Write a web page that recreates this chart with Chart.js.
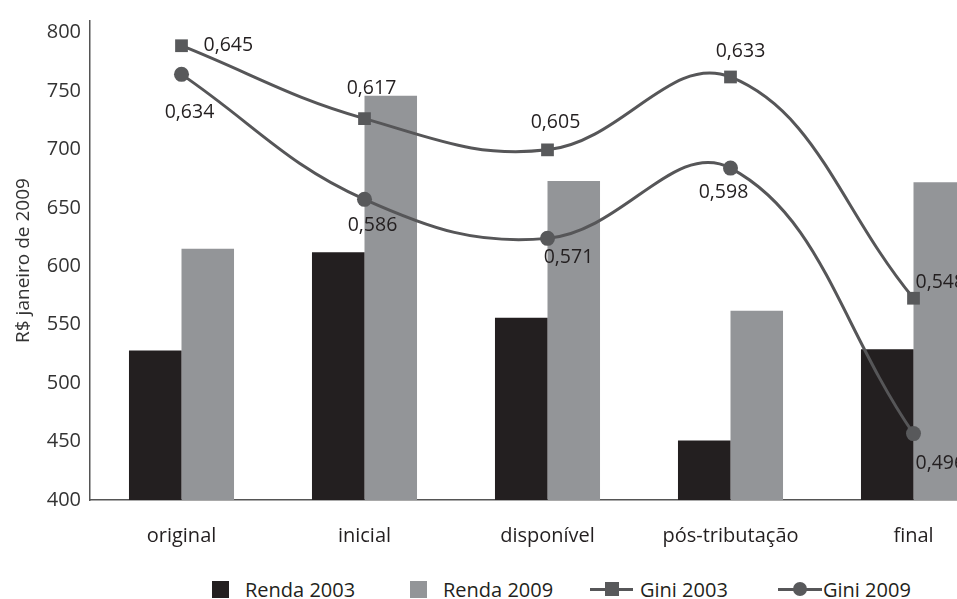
<!DOCTYPE html>
<html>
<head>
<meta charset="utf-8">
<script src="https://cdn.jsdelivr.net/npm/chart.js@4/dist/chart.umd.min.js"></script>
<style>
    body { margin: 0; background: #fff; overflow: hidden; }
    #wrap { position: relative; width: 1014px; height: 599px; }
    #box { position: absolute; left: 0; top: 0; width: 1014px; height: 570px; }
    #legend { position: absolute; left: 0; top: 576px; width: 1014px; height: 26px; font-family: "Open Sans", sans-serif; font-size: 20px; color: #231f20; }
    .leg-item { position: absolute; top: 0; height: 26px; display: flex; align-items: center; white-space: nowrap; }
    .leg-box { width: 17px; height: 17px; margin-right: 16px; }
    .leg-line { position: relative; height: 14px; }
    .leg-line .ln { position: absolute; left: 0; right: 0; top: 5.5px; height: 3px; }
    .leg-line .mk { position: absolute; top: 0; width: 14px; height: 14px; margin-left: -7px; left: 50%; }
</style>
</head>
<body>
<div id="wrap">
    <div id="box"><canvas id="myChart"></canvas></div>
    <div id="legend"></div>
</div>
<script>
const categories = ['original', 'inicial', 'disponível', 'pós-tributação', 'final'];
const renda2003 = [528, 612, 556, 451, 529];
const renda2009 = [615, 746, 673, 562, 672];
const gini2003 = [0.645, 0.617, 0.605, 0.633, 0.548];
const gini2009 = [0.634, 0.586, 0.571, 0.598, 0.496];
const yTicks = [400, 450, 500, 550, 600, 650, 700, 750, 800];

const DARK = '#231f20';
const GRAY = '#939598';
const LINE = '#565658';
const FONT = '"Open Sans", sans-serif';

// label offsets next to each Gini point: [dx, dy, align]
const gini2003LabelPos = [[22, 0, 'left'], [7, -30, 'center'], [8, -27, 'center'], [10, -26, 'center'], [2, -16, 'left']];
const gini2009LabelPos = [[8, 38, 'center'], [8, 26, 'center'], [21, 19, 'center'], [-7, 24, 'center'], [2, 30, 'left']];
// legend layout: [left, symbol width, gap before text]
const legendLayout = [[212, 17, 16], [410, 17, 16], [590, 43, 7], [778, 44, 1]];


function formatGini(v) {
    return v.toFixed(3).replace('.', ',');
}


const giniLabels = {
    id: 'giniLabels',
    afterDatasetsDraw(chart) {
        const ctx = chart.ctx;
        ctx.save();
        ctx.font = '19.5px ' + FONT;
        ctx.fillStyle = DARK;
        ctx.textBaseline = 'middle';
        chart.data.datasets.forEach((ds, i) => {
            if (!ds.labelPos) return;
            chart.getDatasetMeta(i).data.forEach((pt, j) => {
                let pos = ds.labelPos[j];
                ctx.textAlign = pos[2];
                ctx.fillText(formatGini(ds.data[j]), pt.x + pos[0], pt.y + pos[1]);
            });
        });
        ctx.restore();
    }
};


function drawChart() {
    const ctx = document.getElementById('myChart').getContext('2d');
    return new Chart(ctx, {
        data: {
            labels: categories,
            datasets: [
                { type: 'bar', label: 'Renda 2003', data: renda2003, backgroundColor: DARK, yAxisID: 'y', order: 2 },
                { type: 'bar', label: 'Renda 2009', data: renda2009, backgroundColor: GRAY, yAxisID: 'y', order: 2 },
                {
                    type: 'line', label: 'Gini 2003', data: gini2003, yAxisID: 'g', order: 1,
                    borderColor: LINE, borderWidth: 3, tension: 0.4,
                    pointStyle: 'rect', pointRadius: 9, pointBackgroundColor: '#58595b', pointBorderWidth: 0,
                    labelPos: gini2003LabelPos
                },
                {
                    type: 'line', label: 'Gini 2009', data: gini2009, yAxisID: 'g', order: 0,
                    borderColor: LINE, borderWidth: 3, tension: 0.4,
                    pointStyle: 'circle', pointRadius: 7.5, pointBackgroundColor: '#58595b', pointBorderWidth: 0,
                    labelPos: gini2009LabelPos
                }
            ]
        },
        options: {
            responsive: true,
            maintainAspectRatio: false,
            animation: false,
            layout: { padding: { top: 18, right: 0, bottom: 0, left: 0 } },
            datasets: { bar: { barPercentage: 1.0, categoryPercentage: 0.574 } },
            plugins: { legend: { display: false }, tooltip: { enabled: false } },
            scales: {
                x: {
                    grid: { display: false, drawTicks: false },
                    border: { color: '#555', width: 1.5 },
                    ticks: { color: DARK, font: { family: FONT, size: 20 }, padding: 24, maxRotation: 0 },
                    afterFit: (scale) => { scale.height = 70; }
                },
                y: {
                    position: 'left',
                    min: 400,
                    max: 810,
                    grid: { display: false, drawTicks: false },
                    border: { color: '#555', width: 1.5 },
                    ticks: { color: '#333', font: { family: FONT, size: 20 }, padding: 9 },
                    afterBuildTicks: (scale) => { scale.ticks = yTicks.map(v => ({ value: v })); },
                    afterFit: (scale) => { scale.width = 90; },
                    title: {
                        display: true, text: 'R$ janeiro de 2009', color: '#333',
                        font: { family: FONT, size: 19 }, padding: { top: 12, bottom: 0 }
                    }
                },
                g: { display: false, min: 0.4705, max: 0.6545 }
            }
        },
        plugins: [giniLabels]
    });
}


function buildLegend(chart) {
    let html = '';
    chart.data.datasets.forEach((ds, i) => {
        let lay = legendLayout[i];
        let symbol;
        if (ds.type === 'bar') {
            symbol = `<span class="leg-box" style="background:${ds.backgroundColor};width:${lay[1]}px;height:${lay[1]}px;margin-right:${lay[2]}px"></span>`;
        } else {
            let radius = ds.pointStyle === 'circle' ? '50%' : '0';
            symbol = `<span class="leg-line" style="width:${lay[1]}px;margin-right:${lay[2]}px">` +
                `<span class="ln" style="background:${ds.borderColor}"></span>` +
                `<span class="mk" style="background:${ds.pointBackgroundColor};border-radius:${radius}"></span></span>`;
        }
        html += `<div class="leg-item" style="left:${lay[0]}px">${symbol}<span>${ds.label}</span></div>`;
    });
    document.getElementById('legend').innerHTML = html;
}


const chart = drawChart();
buildLegend(chart);
</script>
</body>
</html>
